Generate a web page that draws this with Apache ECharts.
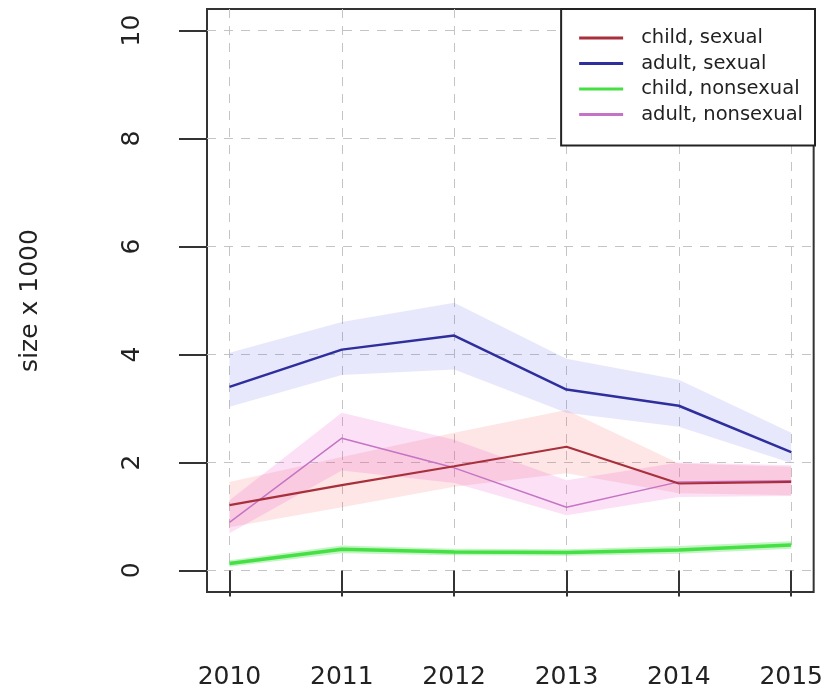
<!DOCTYPE html>
<html>
<head>
<meta charset="utf-8">
<script src="https://cdn.jsdelivr.net/npm/echarts@6.0.0/dist/echarts.min.js"></script>
<style>
  html, body { margin: 0; padding: 0; background: #fff; }
  #chart { width: 826px; height: 692px; }
</style>
</head>
<body>
<div id="chart"></div>
<script>
const years = [2010, 2011, 2012, 2013, 2014, 2015]
const yTicks = [0, 2, 4, 6, 8, 10]

const childSexual = [1.21, 1.58, 1.93, 2.29, 1.61, 1.64]
const childSexualLo = [0.80, 1.17, 1.55, 1.80, 1.43, 1.39]
const childSexualHi = [1.64, 2.10, 2.55, 2.97, 1.98, 1.92]

const adultSexual = [3.40, 4.09, 4.35, 3.35, 3.05, 2.19]
const adultSexualLo = [3.03, 3.62, 3.72, 2.92, 2.66, 1.99]
const adultSexualHi = [4.03, 4.60, 4.96, 3.92, 3.53, 2.55]

const childNonsexual = [0.13, 0.39, 0.34, 0.33, 0.38, 0.47]
const childNonsexualLo = [0.07, 0.32, 0.28, 0.27, 0.31, 0.40]
const childNonsexualHi = [0.19, 0.46, 0.40, 0.39, 0.45, 0.54]

const adultNonsexual = [0.89, 2.45, 1.90, 1.17, 1.64, 1.66]
const adultNonsexualLo = [0.69, 1.85, 1.62, 1.02, 1.36, 1.38]
const adultNonsexualHi = [1.30, 2.92, 2.42, 1.67, 2.00, 1.95]

const FONT = 'DejaVu Sans'

const pairs = vals => years.map((y, i) => [y, vals[i]])

// confidence band: one polygon (upper edge forward, lower edge back) via custom series
const band = (lo, hi, fill) => ({
  type: 'custom', silent: true, z: 1,
  data: pairs(hi),
  renderItem: (params, api) => {
    if (params.dataIndex !== 0) return null
    const pts = []
    years.forEach((y, i) => pts.push(api.coord([y, hi[i]])))
    for (let i = years.length - 1; i >= 0; i--) pts.push(api.coord([years[i], lo[i]]))
    return { type: 'polygon', shape: { points: pts }, style: { fill, stroke: null } }
  }
})

const line = (name, vals, color, width) => ({
  name, type: 'line', data: pairs(vals), symbol: 'none', z: 3,
  color, lineStyle: { color, width }
})

// thin bar, keeps aspect inside the 44x14 legend slot
const legendIcon = 'path://M0,0 L44,0 L44,3 L0,3 Z'

const chart = echarts.init(document.getElementById('chart'))

chart.setOption({
  animation: false,
  backgroundColor: '#fff',
  grid: {
    left: 207, right: 11, top: 9, bottom: 100,
    show: true, borderColor: '#333', borderWidth: 2
  },
  legend: {
    data: ['child, sexual', 'adult, sexual', 'child, nonsexual', 'adult, nonsexual'],
    orient: 'vertical', right: 11, top: 9,
    icon: legendIcon,
    backgroundColor: '#fff', borderColor: '#222', borderWidth: 2, borderRadius: 0,
    padding: [19, 12, 21, 18],
    itemWidth: 44, itemHeight: 14, itemGap: 5.5,
    textStyle: { fontFamily: FONT, fontSize: 19.5, color: '#222', lineHeight: 20, padding: [0, 0, 0, 13] }
  },
  xAxis: {
    type: 'value', min: 2009.8, max: 2015.2,
    axisLine: { show: false },
    axisTick: { show: true, length: 26, customValues: years, lineStyle: { color: '#333', width: 2 } },
    axisLabel: {
      customValues: years, formatter: v => String(v),
      fontFamily: FONT, fontSize: 25, color: '#222', margin: 73
    },
    splitLine: { show: true, lineStyle: { color: '#c4c4c4', type: [9, 8], width: 1 } }
  },
  yAxis: {
    type: 'value', min: -0.4, max: 10.4,
    name: 'size x 1000', nameLocation: 'middle', nameRotate: 90, nameGap: 164,
    nameTextStyle: { fontFamily: FONT, fontSize: 25, color: '#222' },
    axisLine: { show: false },
    axisTick: { show: true, length: 28, customValues: yTicks, lineStyle: { color: '#333', width: 2 } },
    axisLabel: { customValues: yTicks, rotate: 90, fontFamily: FONT, fontSize: 25, color: '#222', margin: 62 },
    splitLine: { show: true, lineStyle: { color: '#c4c4c4', type: [9, 8], width: 1 } }
  },
  series: [
    band(adultSexualLo, adultSexualHi, 'rgba(90, 90, 235, 0.14)'),
    band(childSexualLo, childSexualHi, 'rgba(240, 90, 80, 0.15)'),
    band(adultNonsexualLo, adultNonsexualHi, 'rgba(235, 70, 200, 0.17)'),
    band(childNonsexualLo, childNonsexualHi, 'rgba(60, 220, 60, 0.3)'),
    line('adult, nonsexual', adultNonsexual, '#c574c5', 1.5),
    line('child, nonsexual', childNonsexual, '#44e044', 3.5),
    line('adult, sexual', adultSexual, '#2e2e9c', 2.5),
    line('child, sexual', childSexual, '#a8303c', 2.2)
  ]
})
</script>
</body>
</html>
